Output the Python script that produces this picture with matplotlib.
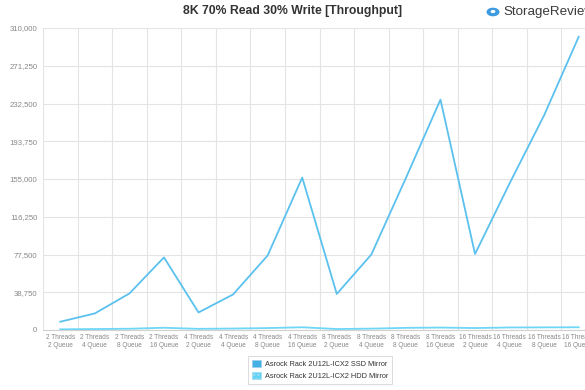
import matplotlib
matplotlib.use('Agg')
import matplotlib.pyplot as plt
import matplotlib.patches as patches
from matplotlib.ticker import FuncFormatter, FixedLocator

plt.rcParams['font.family'] = ['Liberation Sans', 'DejaVu Sans']

threads = [2, 2, 2, 2, 4, 4, 4, 4, 8, 8, 8, 8, 16, 16, 16, 16]
queues = [2, 4, 8, 16, 2, 4, 8, 16, 2, 4, 8, 16, 2, 4, 8, 16]
categories = [f'{t} Threads\n{q} Queue' for t, q in zip(threads, queues)]

ssd_mirror = [8500, 17000, 37500, 74500, 18000, 36500, 76500, 156500,
              37000, 77500, 156000, 236500, 78000, 150500, 220500, 301000]
hdd_mirror = [700, 1000, 1300, 2300, 1200, 1500, 2000, 2800,
              1000, 1400, 2200, 2500, 2000, 2600, 2700, 2800]

series_names = ['Asrock Rack 2U12L-ICX2 SSD Mirror', 'Asrock Rack 2U12L-ICX2 HDD Mirror']
line_colors = ['#5bc1ee', '#6fd6f6']
swatch_colors = ['#45b0e6', '#62d3f5']

yticks = [i * 38750 for i in range(9)]

fig = plt.figure(figsize=(5.85, 3.9), dpi=100)
ax = fig.add_axes([43 / 585, 1 - 330 / 390, 553 / 585, 302 / 390])

x = list(range(len(categories)))
ax.plot(x, ssd_mirror, color=line_colors[0], linewidth=1.3, zorder=3)
ax.plot(x, hdd_mirror, color=line_colors[1], linewidth=1.3, zorder=3)

ax.set_xlim(-0.5, len(categories) - 0.5)
ax.set_ylim(0, 310000)
ax.set_yticks(yticks)
ax.yaxis.set_major_formatter(FuncFormatter(lambda v, p: f'{int(v):,}'))
ax.set_xticks(x)
ax.set_xticklabels(categories, fontsize=4.7, color='#888888', linespacing=1.1)
ax.xaxis.set_minor_locator(FixedLocator([i - 0.5 for i in range(len(categories) + 1)]))
ax.tick_params(axis='y', labelsize=5.6, colors='#888888', length=0, pad=4)
ax.tick_params(axis='x', which='both', length=0, pad=3)
ax.grid(axis='y', color='#e4e4e4', linewidth=0.8)
ax.grid(axis='x', which='minor', color='#e4e4e4', linewidth=0.8)
ax.grid(axis='x', which='major', visible=False)
ax.set_axisbelow(True)
for s in ['top', 'right', 'left']:
    ax.spines[s].set_visible(False)
ax.spines['bottom'].set_color('#d0d0d0')

fig.text(0.5, 1 - 11 / 390, '8K 70% Read 30% Write [Throughput]', ha='center', va='center',
         fontsize=8.8, fontweight='bold', color='#333333')

# logo
fig.patches.append(patches.Circle((493 / 585, 1 - 12 / 390), 6.5 / 585, transform=fig.transFigure,
                                  facecolor='#3d9be0', edgecolor='none'))
fig.patches.append(patches.Circle((493 / 585, 1 - 11.5 / 390), 2.4 / 585, transform=fig.transFigure,
                                  facecolor='white', edgecolor='none'))
fig.text(503 / 585, 1 - 12 / 390, 'StorageReview', ha='left', va='center',
         fontsize=9.6, color='#3a3a3a')

handles = [patches.Patch(facecolor=swatch_colors[0], edgecolor='#9fcde8', linewidth=0.5),
           patches.Patch(facecolor=swatch_colors[1], edgecolor='#9fdcef', linewidth=0.5, hatch='....')]
plt.rcParams['hatch.color'] = '#a9e6fa'
leg = fig.legend(handles, series_names, loc='center', bbox_to_anchor=(320 / 585, 1 - 370 / 390),
                 fontsize=5.3, frameon=True, fancybox=False, edgecolor='#cccccc',
                 handlelength=1.3, handleheight=1.1, borderpad=0.5, labelspacing=0.5,
                 handletextpad=0.5)
leg.get_frame().set_linewidth(0.6)
for t in leg.get_texts():
    t.set_color('#333333')

fig.savefig('out.png', dpi=100)
